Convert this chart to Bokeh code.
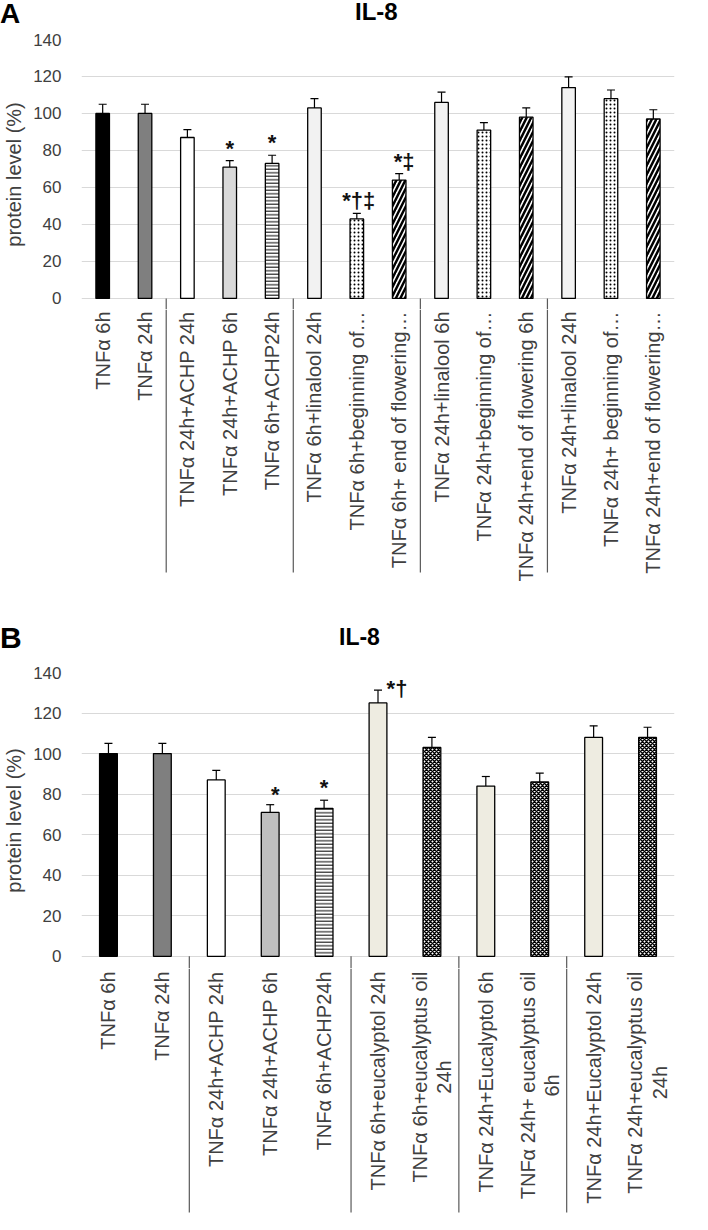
import math
from bokeh.plotting import figure
from bokeh.models import (ColumnDataSource, FactorRange, Range1d, FixedTicker,
                          Whisker, TeeHead, Div)
from bokeh.layouts import column
from bokeh.transform import dodge
from bokeh.embed import file_html
from bokeh.resources import INLINE
from bokeh.core.properties import value

# ---------------- data: panel A ----------------
cats_a = ["TNFα 6h", "TNFα 24h", "TNFα 24h+ACHP 24h", "TNFα 24h+ACHP 6h",
          "TNFα 6h+ACHP24h", "TNFα 6h+linalool 24h", "TNFα 6h+beginning of…",
          "TNFα 6h+ end of flowering…", "TNFα 24h+linalool 6h",
          "TNFα 24h+beginning of…", "TNFα 24h+end of flowering 6h",
          "TNFα 24h+linalool 24h", "TNFα 24h+ beginning of…",
          "TNFα 24h+end of flowering…"]
vals_a = [100, 100, 87, 71, 73, 103, 43, 64, 106, 91, 98, 114, 108, 97]
errs_a = [5, 5, 4.3, 3.5, 4.4, 5, 3, 3.5, 5.5, 4, 5, 5.8, 4.7, 5]
marks_a = ["", "", "", "*", "*", "", "*†‡", "*‡", "", "", "", "", "", ""]
group_ends_a = ["TNFα 24h", "TNFα 6h+ACHP24h", "TNFα 6h+ end of flowering…",
                "TNFα 24h+end of flowering 6h"]

# ---------------- data: panel B ----------------
cats_b = ["TNFα 6h", "TNFα 24h", "TNFα 24h+ACHP 24h", "TNFα 24h+ACHP 6h",
          "TNFα 6h+ACHP24h", "TNFα 6h+eucalyptol 24h",
          "TNFα 6h+eucalyptus oil\n24h", "TNFα 24h+Eucalyptol 6h",
          "TNFα 24h+ eucalyptus oil\n6h", "TNFα 24h+Eucalyptol 24h",
          "TNFα 24h+eucalyptus oil\n24h"]
vals_b = [100, 100, 87, 71, 73, 125, 103, 84, 86, 108, 108]
errs_b = [5, 5, 4.7, 3.8, 4, 6.3, 5, 4.7, 4.4, 5.7, 5]
marks_b = ["", "", "", "*", "*", "*†", "", "", "", "", ""]
group_ends_b = ["TNFα 24h", "TNFα 6h+ACHP24h", "TNFα 6h+eucalyptus oil\n24h",
                "TNFα 24h+ eucalyptus oil\n6h"]

y_ticks = [0, 20, 40, 60, 80, 100, 120, 140]

# ---------------- styles ----------------
STYLES = {
    "black":   ("#000000", " ", 1, 1),
    "gray":    ("#7f7f7f", " ", 1, 1),
    "white":   ("#ffffff", " ", 1, 1),
    "light":   ("#d9d9d9", " ", 1, 1),
    "silver":  ("#bfbfbf", " ", 1, 1),
    "hstripe": ("#ffffff", "-", 3.5, 1),
    "pale":    ("#f2f2f2", " ", 1, 1),
    "beige":   ("#eeece1", " ", 1, 1),
    "dots":    ("#ffffff", ".", 4, 1),
    "diag":    ("#ffffff", "/", 9, 2.5),
    "check":   ("#ffffff", "x", 4, 1.5),
}
styles_a = ["black", "gray", "white", "light", "hstripe", "pale", "dots", "diag",
            "pale", "dots", "diag", "pale", "dots", "diag"]
styles_b = ["black", "gray", "white", "silver", "hstripe", "beige", "check",
            "beige", "check", "beige", "check"]
# screen-pixel nudges of the significance marks (style only)
mark_dx_a = [0, 0, 0, 0, 0, 0, 2, 5, 0, 0, 0, 0, 0, 0]
mark_dy_a = [0] * 14
mark_dx_b = [0, 0, 0, 5, 0, 19, 0, 0, 0, 0, 0]
mark_dy_b = [0, 0, 0, 2, 0, 11, 0, 0, 0, 0, 0]

FONT = "Liberation Sans"
TXT = "#404040"
SEP = "#595959"
W = 692


def header(letter, lsize, ltop, title_left, tsize, ttop, h):
    html = (f'<div style="position:relative;width:{W}px;height:{h}px;'
            f'font-family:\'Liberation Sans\',Arial,sans-serif;color:#000;">'
            f'<span style="position:absolute;left:0px;top:{ltop}px;font-size:{lsize}px;'
            f'font-weight:bold;line-height:1;">{letter}</span>'
            f'<span style="position:absolute;left:{title_left}px;top:{ttop}px;font-size:{tsize}px;'
            f'font-weight:bold;line-height:1;">IL-8</span></div>')
    return Div(text=html, width=W, height=h, margin=(0, 0, 0, 0))


def chart(cats, vals, errs, marks, styles, mdx, mdy, group_ends, frame_h, ymin,
          mbr, lab_h, lab_y, sep_len, bar_w):
    xr = FactorRange(factors=cats)
    p = figure(x_range=xr, y_range=Range1d(ymin, 140), width=W, height=frame_h + 9,
               min_border_left=74, min_border_right=mbr, min_border_top=9,
               min_border_bottom=0, x_axis_location=None, output_backend="svg",
               toolbar_location=None, outline_line_color=None, margin=(0, 0, 0, 0))
    src = ColumnDataSource(dict(
        cat=cats, val=vals,
        upper=[v + e for v, e in zip(vals, errs)],
        lower=[v - e for v, e in zip(vals, errs)],
        mark=marks, mdx=mdx, mdy=mdy,
        fill=[STYLES[s][0] for s in styles],
        hatch=[STYLES[s][1] for s in styles],
        hs=[STYLES[s][2] for s in styles],
        hw=[STYLES[s][3] for s in styles],
    ))
    p.vbar(x="cat", top="val", bottom=0, width=bar_w, fill_color="fill",
           hatch_pattern="hatch", hatch_scale="hs", hatch_weight="hw",
           hatch_color="black", line_color="black", line_width=1.3, source=src)
    p.add_layout(Whisker(base="cat", upper="upper", lower="lower", source=src,
                         line_color="black", line_width=1.2,
                         upper_head=TeeHead(size=8, line_color="black", line_width=1.2),
                         lower_head=TeeHead(size=8, line_color="black", line_width=1.2)))
    p.text(x="cat", y="upper", text="mark", x_offset="mdx", y_offset="mdy",
           text_align="center", text_baseline="bottom", text_font=value(FONT),
           text_font_style="bold", text_font_size="22px", text_color="#111111",
           source=src)
    # group separators: top part (from the zero line to the frame bottom)
    tsep = ColumnDataSource(dict(c=group_ends, y0=[0] * len(group_ends),
                                 y1=[ymin] * len(group_ends)))
    p.segment(x0=dodge("c", 0.5, range=xr), y0="y0", x1=dodge("c", 0.5, range=xr),
              y1="y1", line_color=SEP, line_width=1.2, source=tsep)
    p.yaxis.ticker = FixedTicker(ticks=y_ticks)
    p.yaxis.axis_line_color = None
    p.yaxis.major_tick_line_color = None
    p.yaxis.minor_tick_line_color = None
    p.yaxis.major_label_text_font = FONT
    p.yaxis.major_label_text_font_size = "17px"
    p.yaxis.major_label_text_color = TXT
    p.yaxis.major_label_standoff = 14
    p.yaxis.axis_label = "protein level (%)"
    p.yaxis.axis_label_text_font = FONT
    p.yaxis.axis_label_text_font_size = "20px"
    p.yaxis.axis_label_text_font_style = "normal"
    p.yaxis.axis_label_text_color = TXT
    p.yaxis.axis_label_standoff = 5
    p.xgrid.grid_line_color = None
    p.ygrid.grid_line_color = "#d9d9d9"
    p.ygrid.grid_line_width = 1

    q = figure(x_range=xr, y_range=Range1d(-lab_h, 0), width=W, height=lab_h,
               min_border_left=74, min_border_right=mbr, min_border_top=0,
               min_border_bottom=0, x_axis_location=None, y_axis_location=None,
               output_backend="svg", toolbar_location=None, outline_line_color=None,
               margin=(0, 0, 0, 0))
    q.grid.visible = False
    lsrc = ColumnDataSource(dict(cat=cats, y=[lab_y] * len(cats)))
    q.text(x="cat", y="y", text="cat", angle=math.pi / 2, anchor="center_right",
           text_align="center", text_baseline="middle", text_font=value(FONT),
           text_font_size="20px", text_color=TXT, text_line_height=1.1, source=lsrc)
    ssrc = ColumnDataSource(dict(c=group_ends, y0=[0] * len(group_ends),
                                 y1=[-sep_len] * len(group_ends)))
    q.segment(x0=dodge("c", 0.5, range=xr), y0="y0", x1=dodge("c", 0.5, range=xr),
              y1="y1", line_color=SEP, line_width=1.2, source=ssrc)
    return p, q


# panel A: frame 47..317 px, labels 317..595 px
pa, qa = chart(cats_a, vals_a, errs_a, marks_a, styles_a, mark_dx_a, mark_dy_a,
               group_ends_a, 270, -6, 1, 278, -2, 263, 0.32)
# panel B: frame 680..976 px, labels 976..1222 px
pb, qb = chart(cats_b, vals_b, errs_b, marks_b, styles_b, mark_dx_b, mark_dy_b,
               group_ends_b, 296, -6, 18, 246, -3, 244, 0.33)

ha = header("A", 28, 0, 355, 24, 0, 30)
hb = header("B", 30, 36, 339, 23, 39, 76)

layout = column(ha, pa, qa, hb, pb, qb, spacing=0, margin=(0, 0, 0, 0))
open("out.html", "w").write(file_html(layout, INLINE))
